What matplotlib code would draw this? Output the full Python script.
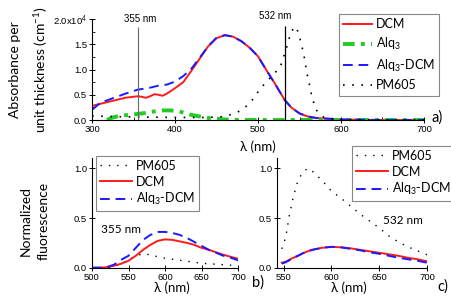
import matplotlib
matplotlib.use("Agg")
import matplotlib.pyplot as plt
import numpy as np

# ---- absorbance (panel a), units of 1e4 cm^-1
wl_dcm = [300, 310, 320, 330, 340, 350, 355, 360, 365, 370, 375, 380, 385, 390, 400, 410, 420,
          430, 440, 450, 460, 470, 480, 490, 500, 510, 520, 532, 540, 550, 560, 570, 580, 600, 650, 700]
abs_dcm = [0.28, 0.32, 0.36, 0.40, 0.44, 0.46, 0.47, 0.46, 0.44, 0.47, 0.51, 0.50, 0.48, 0.52, 0.63,
           0.75, 0.98, 1.22, 1.46, 1.62, 1.68, 1.65, 1.56, 1.43, 1.26, 0.99, 0.73, 0.40, 0.25, 0.13,
           0.07, 0.04, 0.03, 0.01, 0.0, 0.0]
wl_mix = [300, 310, 320, 340, 355, 370, 380, 390, 400, 410, 420, 430, 440, 450, 460, 470, 480,
          490, 500, 510, 520, 532, 540, 550, 560, 570, 580, 600, 650, 700]
abs_mix = [0.20, 0.34, 0.40, 0.52, 0.60, 0.64, 0.68, 0.70, 0.76, 0.87, 1.02, 1.24, 1.46, 1.63, 1.68,
           1.65, 1.56, 1.43, 1.26, 0.99, 0.73, 0.40, 0.25, 0.13, 0.07, 0.04, 0.03, 0.01, 0.0, 0.0]
wl_alq = [318, 325, 335, 345, 355, 365, 375, 385, 395, 405, 420, 440, 460, 480, 550, 700]
abs_alq = [0.0, 0.05, 0.09, 0.10, 0.12, 0.14, 0.17, 0.19, 0.19, 0.17, 0.10, 0.04, 0.01, 0.0, 0.0, 0.0]
wl_pm = [300, 320, 350, 400, 440, 460, 475, 485, 495, 502, 510, 518, 527, 534, 540, 546, 550,
         553, 556, 559, 562, 565, 570, 580, 600, 650, 700]
abs_pm = [0.08, 0.07, 0.06, 0.05, 0.05, 0.07, 0.15, 0.26, 0.43, 0.61, 0.75, 0.89, 1.06, 1.41, 1.76,
          1.85, 1.65, 1.45, 1.22, 0.92, 0.70, 0.45, 0.20, 0.04, 0.01, 0.0, 0.0]

# ---- fluorescence, 355 nm excitation (panel b)
wl_b = [500, 510, 520, 530, 540, 550, 560, 570, 580, 590, 600, 610, 620, 630, 640, 650, 660, 670, 680, 690, 700]
pm_b = [0, 0, 0, 0.01, 0.04, 0.08, 0.12, 0.14, 0.13, 0.11, 0.095, 0.085, 0.075, 0.065, 0.055,
        0.045, 0.04, 0.035, 0.03, 0.025, 0.02]
dcm_b = [0, 0, 0.005, 0.02, 0.04, 0.07, 0.12, 0.18, 0.23, 0.27, 0.285, 0.28, 0.265, 0.25, 0.23,
         0.20, 0.18, 0.155, 0.13, 0.11, 0.09]
mix_b = [0, 0, 0.005, 0.03, 0.08, 0.12, 0.20, 0.28, 0.33, 0.36, 0.36, 0.35, 0.33, 0.30, 0.26,
         0.22, 0.18, 0.15, 0.12, 0.10, 0.075]

# ---- fluorescence, 532 nm excitation (panel c)
wl_c = [548, 552, 556, 560, 565, 570, 575, 580, 590, 600, 610, 620, 630, 640, 650, 660, 670, 680, 690, 700]
pm_c = [0.19, 0.30, 0.53, 0.71, 0.88, 0.96, 1.0, 0.97, 0.88, 0.77, 0.70, 0.62, 0.54, 0.47, 0.40,
        0.32, 0.26, 0.21, 0.17, 0.13]
dcm_c = [0.05, 0.06, 0.08, 0.10, 0.12, 0.145, 0.165, 0.18, 0.20, 0.21, 0.205, 0.195, 0.18, 0.165,
         0.15, 0.135, 0.12, 0.10, 0.085, 0.065]
mix_c = [0.04, 0.055, 0.075, 0.10, 0.12, 0.145, 0.165, 0.18, 0.20, 0.21, 0.205, 0.19, 0.175, 0.155,
         0.14, 0.12, 0.10, 0.085, 0.07, 0.05]

RED = "#ff1a1a"
BLUE = "#1a1aff"
GREEN = "#22cc22"
dot = (0, (1, 4.5))
dash = (0, (5, 3))
dashdot = (0, (3, 1.6, 1, 1.6))

TICKF = dict(family=["Liberation Sans", "DejaVu Sans"])
LABF = ["Lato", "DejaVu Sans"]
plt.rcParams["mathtext.fontset"] = "custom"
plt.rcParams["mathtext.rm"] = "Lato"
plt.rcParams["mathtext.it"] = "Lato"

fig = plt.figure(figsize=(4.52, 3.0), dpi=100)
W, H = 452.0, 300.0


def box(l, r, t, b):
    return [l / W, 1 - b / H, (r - l) / W, (b - t) / H]


def style(ax):
    for s in ["top", "right"]:
        ax.spines[s].set_visible(False)
    for s in ["left", "bottom"]:
        ax.spines[s].set_linewidth(0.8)
    ax.tick_params(which="major", direction="inout", length=4, width=0.7, labelsize=6.8, pad=1.5)
    ax.tick_params(which="minor", direction="in", length=2, width=0.6)
    for t in ax.get_xticklabels() + ax.get_yticklabels():
        t.set_family(TICKF["family"])


# ---------- panel a
ax = fig.add_axes(box(92, 424, 19, 120))
ax.plot(wl_dcm, abs_dcm, color=RED, lw=1.4, label="DCM")
ax.plot(wl_alq, abs_alq, color=GREEN, lw=2.8, ls=dashdot, label="Alq$_3$")
ax.plot(wl_mix, abs_mix, color=BLUE, lw=1.4, ls=dash, label="Alq$_3$-DCM")
ax.plot(wl_pm, abs_pm, color="black", lw=1.2, ls=dot, label="PM605")
ax.vlines(355, 0, 1.84, color="#666666", lw=0.8)
ax.vlines(532, 0, 1.86, color="black", lw=0.9)
ax.text(358, 1.90, "355 nm", fontsize=7, ha="center", va="bottom", family=TICKF["family"])
ax.text(521, 1.96, "532 nm", fontsize=7, ha="center", va="bottom", family=TICKF["family"])
ax.set_xlim(300, 700)
ax.set_ylim(0, 2.0)
ax.set_xticks([300, 400, 500, 600, 700])
ax.set_xticks([350, 450, 550, 650], minor=True)
ax.set_yticks([0, 0.5, 1.0, 1.5, 2.0])
ax.set_yticks([0.25, 0.75, 1.25, 1.75], minor=True)
ax.set_yticklabels(["0.0", "0.5", "1.0", "1.5", "2.0x10$^4$"])
style(ax)
ax.set_xlabel("λ (nm)", fontsize=9.5, family=LABF)
ax.xaxis.set_label_coords(0.5, -0.2)
ax.set_ylabel("Absorbance per\nunit thickness (cm$^{-1}$)", fontsize=10, family=LABF, linespacing=1.8)
ax.yaxis.set_label_coords(-0.125, 0.5)
leg = ax.legend(loc="upper left", bbox_to_anchor=(339 / W, 1 - 14 / H), bbox_transform=fig.transFigure,
                fancybox=False, edgecolor="#888888", framealpha=1, handlelength=2.3,
                prop=dict(family=LABF, size=9), labelspacing=0.45, borderpad=0.35, handletextpad=0.3,
                borderaxespad=0)
leg.get_frame().set_linewidth(0.8)
fig.text(437 / W, 1 - 118 / H, "a)", fontsize=10.5, ha="center", va="center", family=LABF)

# ---------- panel b
axb = fig.add_axes(box(92, 238, 158.4, 267.7))
axb.plot(wl_b, pm_b, color="black", lw=1.0, ls=(0, (1, 5)), label="PM605")
axb.plot(wl_b, dcm_b, color=RED, lw=1.4, label="DCM")
axb.plot(wl_b, mix_b, color=BLUE, lw=1.4, ls=dash, label="Alq$_3$-DCM")
axb.set_xlim(500, 700)
axb.set_ylim(0, 1.1)
axb.set_xticks([500, 550, 600, 650, 700])
axb.set_yticks([0, 0.5, 1.0])
axb.set_yticklabels(["0.0", "0.5", "1.0"])
style(axb)
axb.text(0.2, 0.35, "355 nm", transform=axb.transAxes, fontsize=8.5, ha="center", va="center", family=LABF)
axb.set_xlabel("λ (nm)", fontsize=9.5, family=LABF)
axb.xaxis.set_label_coords(0.55, -0.13)
axb.set_ylabel("Normalized\nfluorescence", fontsize=10, family=LABF, linespacing=1.6)
axb.yaxis.set_label_coords(-0.29, 0.43)
legb = axb.legend(loc="upper left", bbox_to_anchor=(96 / W, 1 - 156 / H), bbox_transform=fig.transFigure,
                  fancybox=False, edgecolor="#888888", framealpha=1, handlelength=2.6,
                  prop=dict(family=LABF, size=9), labelspacing=0.3, borderpad=0.3, handletextpad=0.3,
                  borderaxespad=0)
legb.get_frame().set_linewidth(0.8)
fig.text(258 / W, 1 - 283 / H, "b)", fontsize=10.5, ha="center", va="center", family=LABF)

# ---------- panel c
axc = fig.add_axes(box(277, 427, 158.4, 267.7))
axc.plot(wl_c, pm_c, color="black", lw=1.0, ls=(0, (1, 5)), label="PM605")
axc.plot(wl_c, dcm_c, color=RED, lw=1.4, label="DCM")
axc.plot(wl_c, mix_c, color=BLUE, lw=1.4, ls=dash, label="Alq$_3$-DCM")
axc.set_xlim(543, 700)
axc.set_ylim(0, 1.1)
axc.set_xticks([550, 600, 650, 700])
axc.set_yticks([0, 0.5, 1.0])
axc.set_yticklabels(["0.0", "0.5", "1.0"])
style(axc)
axc.text(403 / W, 1 - 220 / H, "532 nm", transform=fig.transFigure, fontsize=8.5, ha="center",
         va="center", family=LABF)
axc.set_xlabel("λ (nm)", fontsize=9.5, family=LABF)
axc.xaxis.set_label_coords(0.48, -0.13)
legc = axc.legend(loc="upper left", bbox_to_anchor=(352 / W, 1 - 146 / H), bbox_transform=fig.transFigure,
                  fancybox=False, edgecolor="#888888", framealpha=1, handlelength=2.6,
                  prop=dict(family=LABF, size=9), labelspacing=0.3, borderpad=0.3, handletextpad=0.3,
                  borderaxespad=0)
legc.get_frame().set_linewidth(0.8)
fig.text(443 / W, 1 - 287 / H, "c)", fontsize=10.5, ha="center", va="center", family=LABF)

fig.savefig("out.png", dpi=100)
